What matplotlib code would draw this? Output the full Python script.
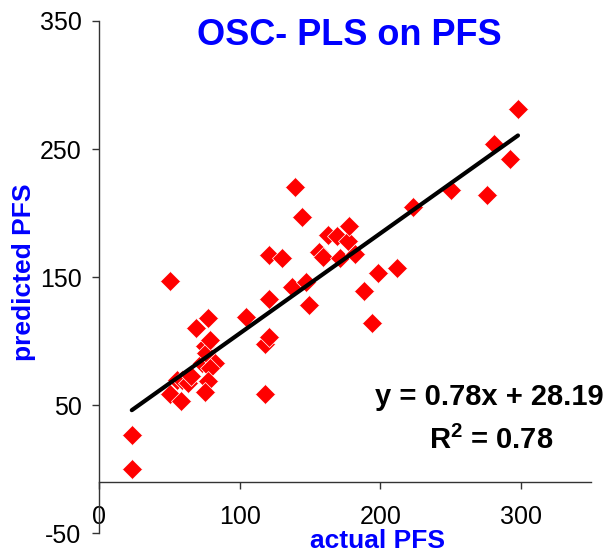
import numpy as np
import matplotlib
matplotlib.use("Agg")
import matplotlib.pyplot as plt

plt.rcParams['font.family'] = ['Liberation Sans', 'DejaVu Sans']
plt.rcParams['axes.unicode_minus'] = False
plt.rcParams['mathtext.fontset'] = 'custom'
plt.rcParams['mathtext.bf'] = 'Liberation Sans:bold'

# actual vs predicted PFS
actual = [23, 23, 50, 50, 58, 55, 59, 63, 65, 73, 75, 76, 79, 82, 79, 77, 75,
          69, 77, 104, 118, 118, 121, 121, 121, 130, 137, 139, 144, 147, 149,
          156, 159, 163, 169, 171, 177, 178, 182, 188, 194, 198, 212, 223,
          250, 276, 281, 292, 298]
predicted = [27, 0, 147, 59, 53, 70, 70, 67, 73, 83, 96, 91, 101, 83, 79, 69, 60,
             110, 118, 119, 59, 98, 103, 133, 167, 165, 142, 220, 197, 146, 128,
             170, 166, 183, 182, 165, 178, 190, 168, 139, 114, 153, 157, 205,
             218, 214, 254, 242, 281]

slope = 0.78
intercept = 28.19
r2 = 0.78

xticks = [0, 100, 200, 300]
yticks = [-50, 50, 150, 250, 350]

W, H = 615, 553
fig = plt.figure(figsize=(W / 100, H / 100), dpi=100)
ax = fig.add_axes([99.5 / W, 1 - 533.3 / H, (591 - 99.5) / W, (533.3 - 21) / H])

ax.plot(actual, predicted, ls='none', marker='D', ms=10, mfc='#ff0000',
        mec='white', mew=0.5, zorder=3)

xs = np.array([min(actual), max(actual)])
ax.plot(xs, slope * xs + intercept, color='black', lw=3, solid_capstyle='round', zorder=4)

ax.set_xlim(0, 350)
ax.set_ylim(-50, 350)
ax.set_xticks(xticks)
ax.set_yticks(yticks)

for s in ['top', 'right']:
    ax.spines[s].set_visible(False)
ax.spines['bottom'].set_position(('data', -10))
for s in ['left', 'bottom']:
    ax.spines[s].set_color('#333333')
    ax.spines[s].set_linewidth(1)

ax.tick_params(axis='both', direction='out', length=5, width=1, color='#333333',
               labelsize=18, labelcolor='black')
ax.tick_params(axis='x', pad=11.5)
ax.tick_params(axis='y', pad=8)

fig.text(349 / W, 1 - 45 / H, 'OSC- PLS on PFS', color='#0000ff', fontsize=26,
         fontweight='bold', ha='center', va='baseline')
fig.text(377 / W, 1 - 548 / H, 'actual PFS', color='#0000ff', fontsize=19,
         fontweight='bold', ha='center', va='baseline')
fig.text(24 / W, 1 - 272 / H, 'predicted PFS', color='#0000ff', fontsize=19,
         fontweight='bold', ha='center', va='center', rotation=90)

fig.text(489 / W, 1 - 405 / H, 'y = %.2fx + %.2f' % (slope, intercept), fontsize=21,
         fontweight='bold', ha='center', va='baseline')
fig.text(491 / W, 1 - 449 / H, r'R$^{\mathbf{2}}$ = %.2f' % r2, fontsize=21,
         fontweight='bold', ha='center', va='baseline')

fig.savefig('out.png', dpi=100)
